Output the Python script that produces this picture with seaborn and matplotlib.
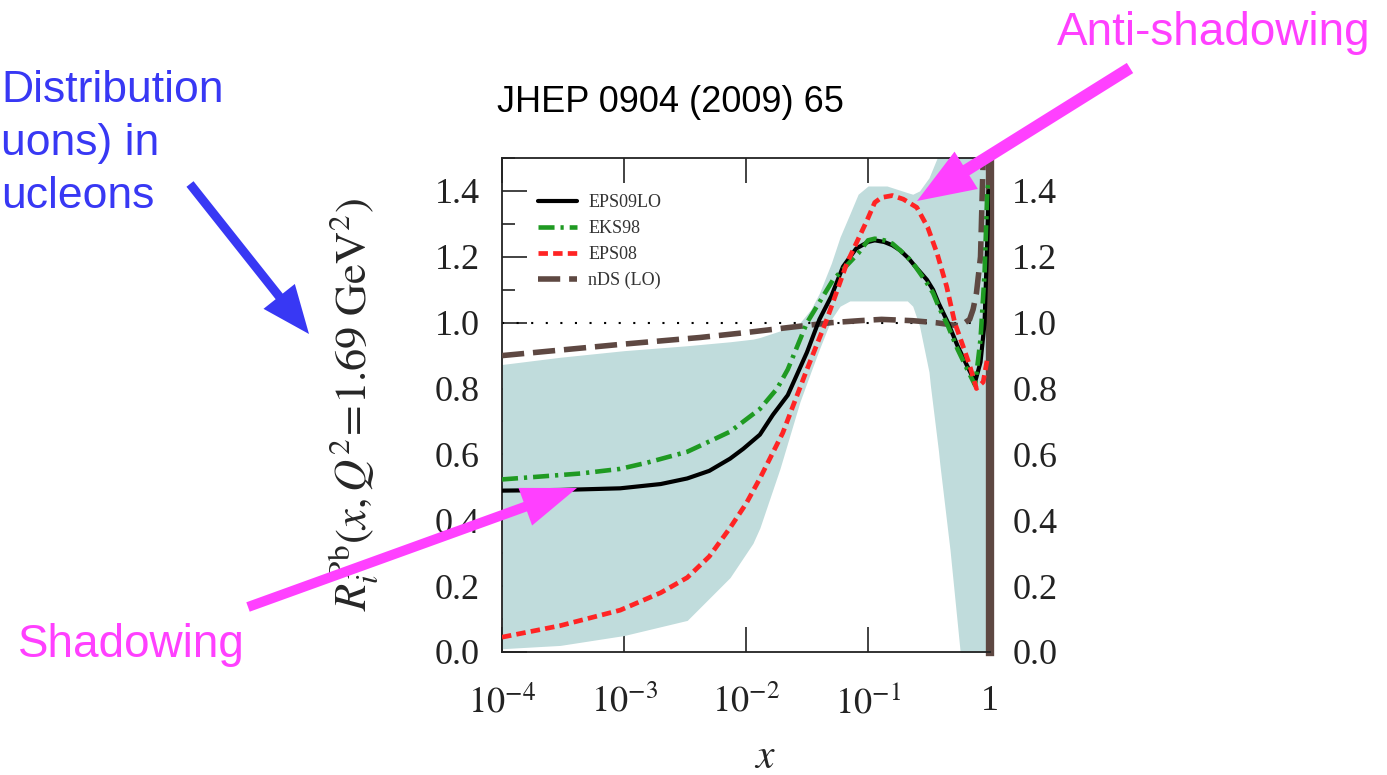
import numpy as np
import matplotlib
matplotlib.use("Agg")
import matplotlib.pyplot as plt
from matplotlib.patches import FancyArrow
from matplotlib.ticker import FixedLocator, MultipleLocator, NullLocator
import seaborn as sns

# values (gluon nuclear modification, Pb, Q^2 = 1.69 GeV^2)
eps09_x = [1e-4, 3e-4, 9.3e-4, 2e-3, 3.3e-3, 5e-3, 7.4e-3, 0.0095, 0.013, 0.0166, 0.022,
           0.0316, 0.040, 0.05, 0.0624, 0.08, 0.10, 0.15, 0.22, 0.28, 0.336, 0.40, 0.45,
           0.535, 0.58, 0.62, 0.69, 0.76, 0.83, 0.89, 0.93, 0.96, 0.98, 0.99]
eps09_y = [0.49, 0.492, 0.497, 0.51, 0.527, 0.55, 0.587, 0.617, 0.66, 0.72, 0.78,
           0.91, 1.01, 1.08, 1.17, 1.225, 1.245, 1.25, 1.245, 1.235, 1.22, 1.195, 1.17,
           1.13, 1.10, 1.06, 1.0, 0.93, 0.87, 0.82, 0.88, 1.0, 1.25, 1.4]

eks98_x = [1e-4, 4.4e-4, 9.3e-4, 1.55e-3, 3.3e-3, 5.4e-3, 7.4e-3, 0.013, 0.018, 0.022,
           0.0316, 0.0517, 0.083, 0.10, 0.15, 0.22, 0.28, 0.336, 0.40, 0.45, 0.535,
           0.58, 0.62, 0.69, 0.76, 0.83, 0.89, 0.93, 0.96, 0.98, 0.99]
eks98_y = [0.524, 0.542, 0.556, 0.575, 0.608, 0.645, 0.669, 0.738, 0.80, 0.858,
           1.0, 1.13, 1.21, 1.25, 1.255, 1.25, 1.24, 1.22, 1.195, 1.17, 1.12,
           1.09, 1.05, 0.99, 0.92, 0.86, 0.81, 0.95, 1.15, 1.40, 1.43]

eps08_x = [1e-4, 3e-4, 9.3e-4, 2e-3, 3.3e-3, 5e-3, 7.4e-3, 0.01, 0.013, 0.02, 0.0316,
           0.046, 0.067, 0.098, 0.15, 0.20, 0.28, 0.36, 0.46, 0.54, 0.61, 0.68, 0.74,
           0.80, 0.85, 0.90, 0.95, 0.98]
eps08_y = [0.045, 0.08, 0.127, 0.18, 0.226, 0.29, 0.377, 0.45, 0.527, 0.665, 0.858,
           1.01, 1.18, 1.31, 1.365, 1.38, 1.386, 1.375, 1.35, 1.29, 1.21, 1.11, 1.0,
           0.93, 0.87, 0.80, 0.82, 0.89]

nds_x = [1e-4, 9.3e-4, 4.2e-3, 0.01, 0.022, 0.05, 0.085, 0.2, 0.43, 0.6, 0.78,
         0.85, 0.875, 0.90, 0.93, 0.95, 0.96]
nds_y = [0.90, 0.934, 0.955, 0.97, 0.985, 1.0, 1.006, 1.01, 1.006, 1.0, 0.99,
         1.01, 1.04, 1.09, 1.2, 1.5, 1.7]

# EPS09 uncertainty band
band_x = [1e-4, 3e-4, 1e-3, 3.3e-3, 7.4e-3, 0.0114, 0.013, 0.019, 0.0277, 0.034, 0.04,
          0.05, 0.059, 0.071, 0.083, 0.1, 0.24, 0.39, 0.43, 0.48, 0.55, 0.56, 0.62,
          0.63, 0.705, 0.78, 0.85, 1.0]
band_hi = [0.873, 0.895, 0.915, 0.93, 0.942, 0.95, 0.955, 0.975, 1.0, 1.04, 1.09,
           1.18, 1.26, 1.33, 1.39, 1.415, 1.415, 1.395, 1.39, 1.40, 1.44, 1.45, 1.51,
           1.52, 1.6, 1.6, 1.6, 1.6]
band_lo = [0.01, 0.02, 0.05, 0.096, 0.226, 0.33, 0.377, 0.557, 0.76, 0.85, 0.92,
           1.01, 1.05, 1.066, 1.066, 1.066, 1.066, 1.066, 1.05, 0.99, 0.85, 0.81, 0.61,
           0.57, 0.31, 0.0, -0.1, -0.1]

tick_x = [1e-4, 1e-3, 1e-2, 1e-1, 1]
tick_x_labels = [r'$10^{-4}$', r'$10^{-3}$', r'$10^{-2}$', r'$10^{-1}$', '1']

sns.set_theme(style="ticks")
plt.rcParams['font.family'] = ['Liberation Serif', 'DejaVu Serif']
plt.rcParams['mathtext.fontset'] = 'stix'


# log axis below 0.1, linear axis from 0.1 to 1 (same width as one decade)
def fwd(x):
    x = np.asarray(x, dtype=float)
    lg = np.log10(np.clip(x, 1e-12, None))
    return np.where(x <= 0.1, lg, -1 + (x - 0.1) / 0.9)


def inv(t):
    t = np.asarray(t, dtype=float)
    return np.where(t <= -1, 10.0 ** np.clip(t, -20, 5), 0.1 + 0.9 * (t + 1))


fig = plt.figure(figsize=(13.87, 7.75), dpi=100)
ax = fig.add_axes([502 / 1387, 123 / 775, 488 / 1387, 494 / 775])
ax.set_xscale('function', functions=(fwd, inv))

ax.fill_between(band_x, band_lo, band_hi, color='#c0dcdc', lw=0, zorder=1)
ax.axhline(1.0, color='black', lw=1.5, ls=(0, (1, 6)), zorder=2)

sns.lineplot(x=nds_x, y=nds_y, ax=ax, color='#5e4842', lw=4, ls=(0, (4, 1.6)),
             label='nDS (LO)', zorder=3)
sns.lineplot(x=eps09_x, y=eps09_y, ax=ax, color='black', lw=3, label='EPS09LO', zorder=4)
sns.lineplot(x=eks98_x, y=eks98_y, ax=ax, color='#1f9a22', lw=3.3,
             ls=(0, (3.5, 1.3, 0.7, 1.3)), label='EKS98', zorder=5)
sns.lineplot(x=eps08_x, y=eps08_y, ax=ax, color='#ff2424', lw=3.4, ls=(0, (2, 1.1)),
             label='EPS08', zorder=6)

ax.set_xlim(1e-4, 1)
ax.set_ylim(0, 1.5)

ax.xaxis.set_major_locator(FixedLocator(tick_x))
ax.xaxis.set_minor_locator(NullLocator())
ax.set_xticklabels(tick_x_labels)
ax.yaxis.set_major_locator(MultipleLocator(0.2))
ax.yaxis.set_minor_locator(MultipleLocator(0.1))

ax.tick_params(axis='both', which='both', direction='in', top=True, right=True,
               labelright=True, colors='#222222')
ax.tick_params(axis='both', which='major', length=18, width=1.2, labelsize=26)
ax.tick_params(axis='both', which='minor', length=9, width=1.2)
ax.tick_params(axis='y', which='major', pad=16)
ax.tick_params(axis='x', which='major', pad=24)
for s in ['left', 'top', 'bottom']:
    ax.spines[s].set_linewidth(1.3)
    ax.spines[s].set_color('#222222')
ax.spines['right'].set_linewidth(6)
ax.spines['right'].set_color('#5e4842')

ax.set_xlabel('$x$', fontsize=30)
ax.xaxis.set_label_coords(0.539, -0.175)
ax.set_ylabel(r'$R_i^{\rm Pb}(x,Q^2\!=\!1.69\ {\rm GeV}^2)$', fontsize=32)
ax.yaxis.set_label_coords(-0.25, 0.5)

h, l = ax.get_legend_handles_labels()
order = [l.index(n) for n in ['EPS09LO', 'EKS98', 'EPS08', 'nDS (LO)']]
ax.legend([h[i] for i in order], [l[i] for i in order], loc='upper left',
          bbox_to_anchor=(0.04, 0.96), frameon=False, fontsize=13,
          handlelength=2.2, handletextpad=0.6, labelspacing=0.5,
          labelcolor='#333333')

# slide annotations, drawn in pixel coordinates on a transparent overlay
over = fig.add_axes([0, 0, 1, 1], zorder=10)
over.set_xlim(0, 1387)
over.set_ylim(775, 0)
over.axis('off')
over.patch.set_alpha(0)

blue = '#3838f4'
pink = '#ff40ff'
sans = ['Liberation Sans', 'DejaVu Sans']

over.text(1, 90, 'Distribution', color=blue, fontsize=32, family=sans, va='center')
over.text(1, 144, 'uons) in', color=blue, fontsize=32, family=sans, va='center')
over.text(1, 197, 'ucleons', color=blue, fontsize=32, family=sans, va='center')
over.text(497, 103, 'JHEP 0904 (2009) 65', color='black', fontsize=26, family=sans,
          va='center')
over.text(1057, 33, 'Anti-shadowing', color=pink, fontsize=33, family=sans, va='center')
over.text(18, 645, 'Shadowing', color=pink, fontsize=33, family=sans, va='center')


def arrow(x0, y0, x1, y1, color, w, hw, hl):
    over.add_patch(FancyArrow(x0, y0, x1 - x0, y1 - y0, width=w, head_width=hw,
                              head_length=hl, length_includes_head=True,
                              color=color, lw=0))


arrow(190, 184, 309, 334, blue, 9, 40, 48)
arrow(1130, 68, 917, 201, pink, 12, 44, 58)
arrow(248, 607, 577, 488, pink, 10, 40, 55)

plt.savefig('out.png', dpi=100)
